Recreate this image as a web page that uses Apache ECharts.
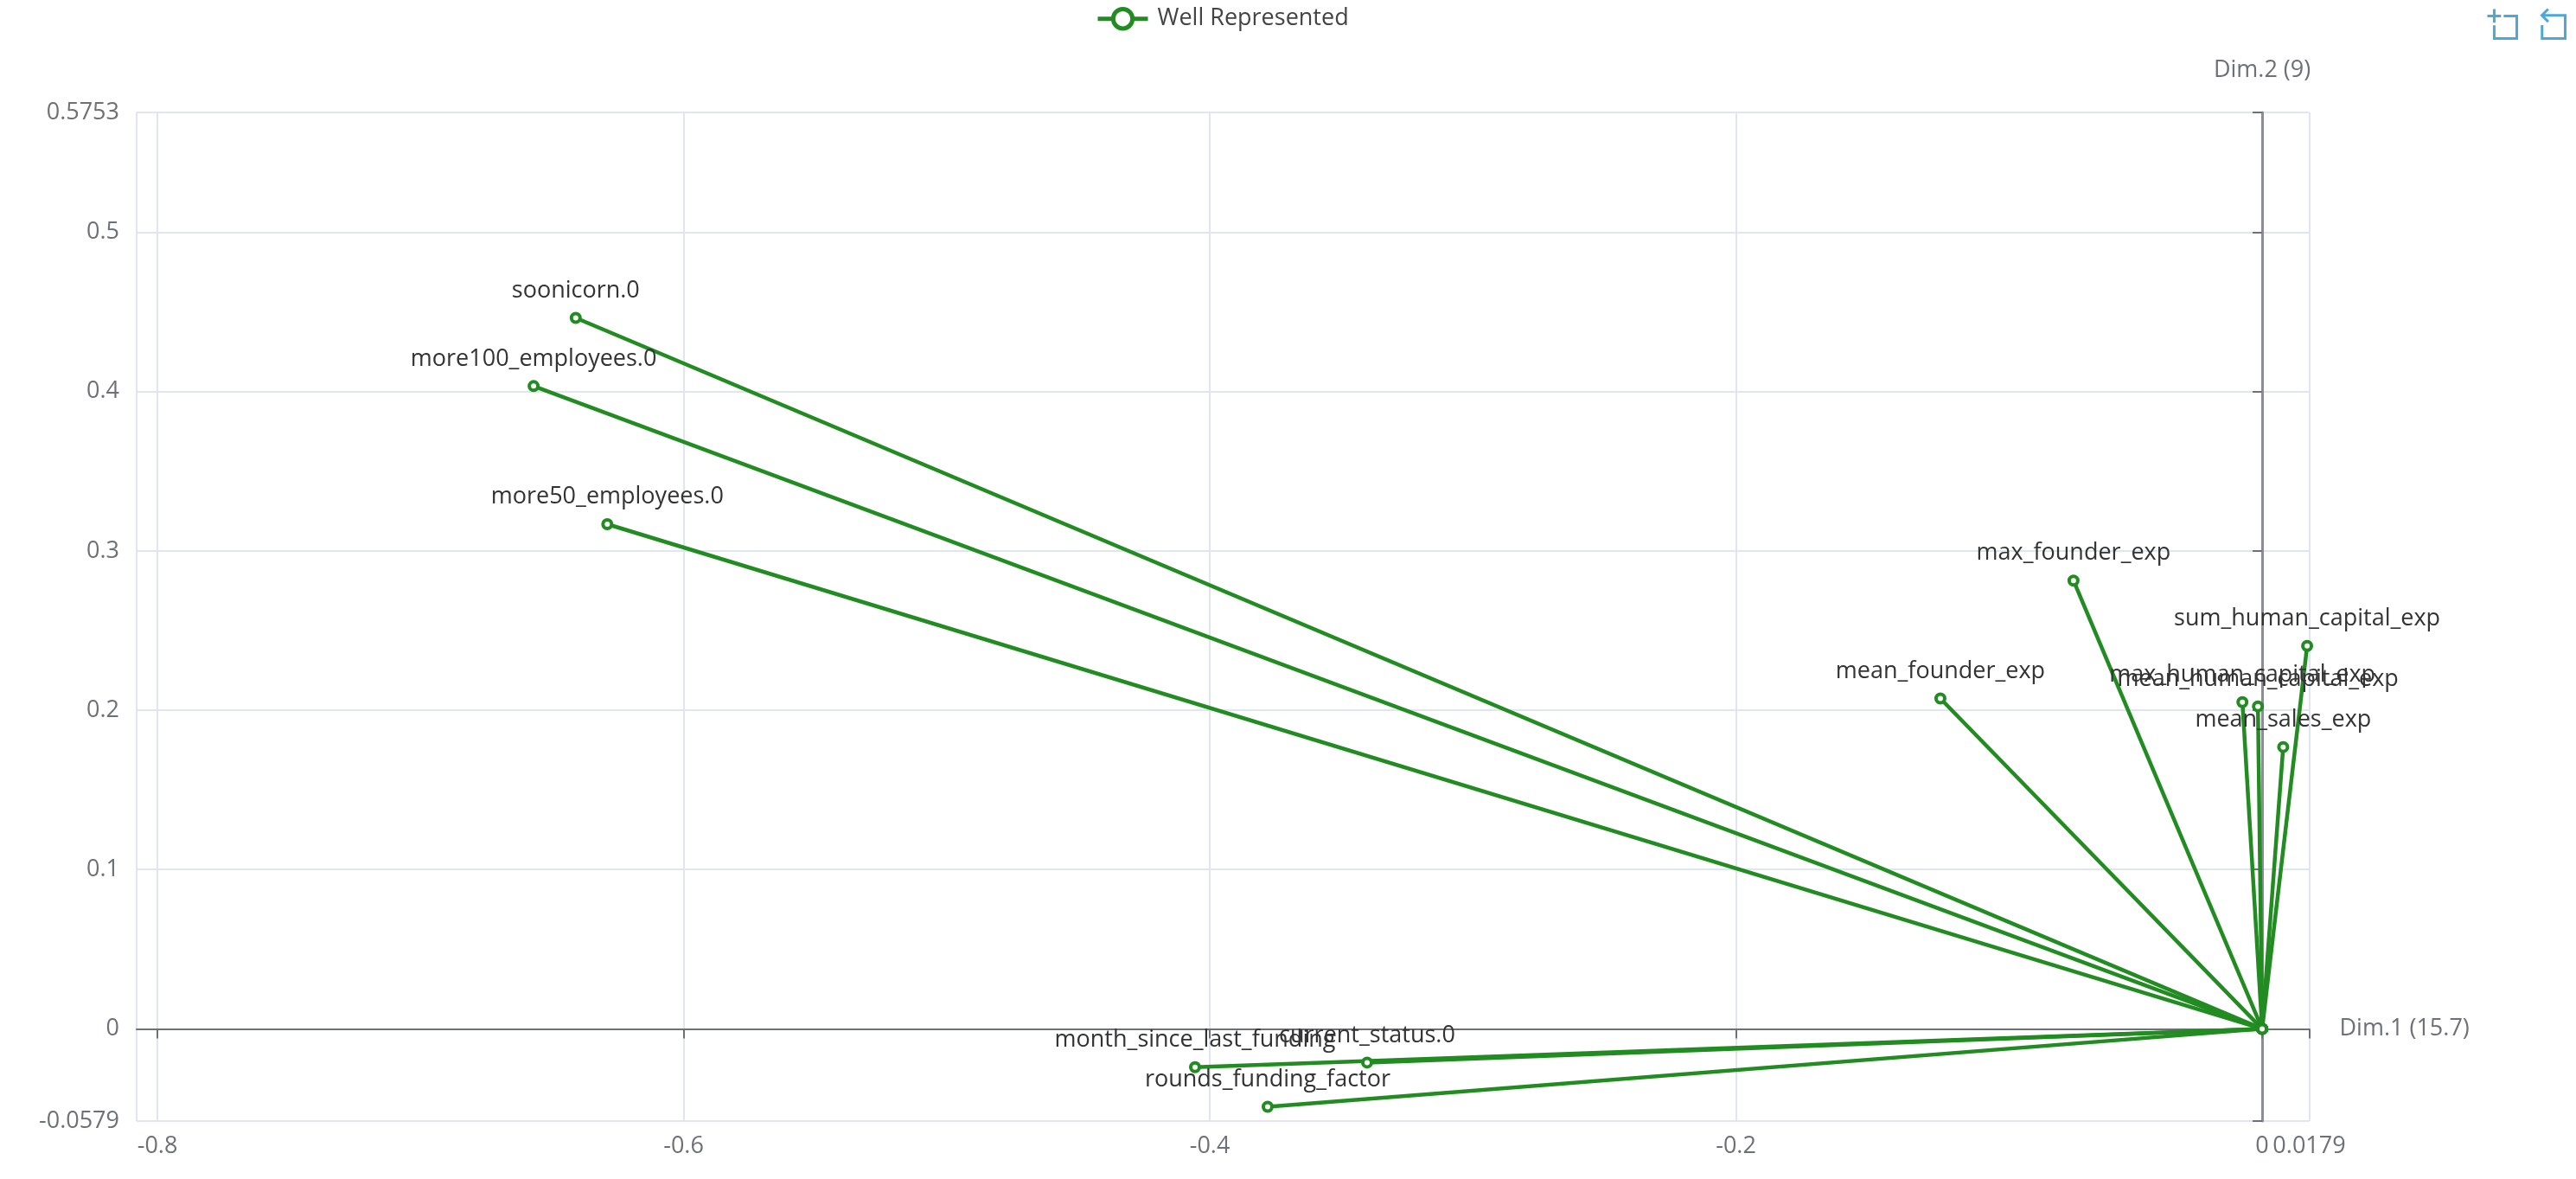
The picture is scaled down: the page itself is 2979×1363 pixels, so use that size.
<!DOCTYPE html>
<html><head><meta charset="utf-8">
<style>html,body{margin:0;padding:0;background:#fff}#c{width:2979px;height:1363px}</style>
<script src="https://cdn.jsdelivr.net/npm/echarts@6/dist/echarts.min.js"></script>
</head><body><div id="c"></div>
<script>
const legendName = 'Well Represented';
const xAxisName = 'Dim.1 (15.7)';
const yAxisName = 'Dim.2 (9)';
const variables = ['soonicorn.0','more100_employees.0','more50_employees.0','max_founder_exp','mean_founder_exp','sum_human_capital_exp','max_human_capital_exp','mean_human_capital_exp','mean_sales_exp','month_since_last_funding','current_status.0','rounds_funding_factor'];
const dim1 = [-0.641,-0.657,-0.629,-0.0717,-0.1223,0.0171,-0.0075,-0.0016,0.0080,-0.4056,-0.3402,-0.378];
const dim2 = [0.4463,0.4035,0.3168,0.2814,0.2074,0.2404,0.2051,0.2024,0.1769,-0.0241,-0.0212,-0.0489];
const xMin = -0.8079, xMax = 0.0179, yMin = -0.0579, yMax = 0.5753;
const xTicks = [-0.8,-0.6,-0.4,-0.2,0,0.0179];

const green = '#228B22', grey = '#6E7079', split = '#E0E6F1', FONT = '"Open Sans"';
const series = variables.map((v,i)=>({
  name: legendName, type:'line', xAxisIndex:0, yAxisIndex:0,
  symbol:'circle', symbolSize:10, showSymbol:true, animation:false,
  lineStyle:{color:green,width:4.5}, itemStyle:{color:'#fff',borderColor:green,borderWidth:4},
  label:{show:false},
  data:[[0,0],{name:v,value:[dim1[i],dim2[i]],label:{show:true,position:'top',distance:11,color:'#333',fontSize:27,fontFamily:FONT,formatter:'{b}'}}]
}));
const chart = echarts.init(document.getElementById('c'),null,{renderer:'canvas'});
const common = {type:'value',scale:false};
chart.setOption({
  animation:false, backgroundColor:'#fff',
  legend:{show:true,top:3,left:1262,itemWidth:58,itemHeight:28,itemGap:12,
    data:[legendName],textStyle:{fontSize:27,fontFamily:FONT,color:'#444',padding:[0,0,0,6]},
    lineStyle:{width:5},itemStyle:{color:'#fff',borderColor:green,borderWidth:5}},
  toolbox:{show:true,right:-5,top:-7,itemSize:34,itemGap:24,
    iconStyle:{borderColor:'#4DA8D6',borderWidth:3,color:'none'},
    feature:{dataZoom:{title:{zoom:'',back:''}}}},
  grid:{left:158,right:308.5,top:130,bottom:67,containLabel:false},
  xAxis:[
    {...common,min:xMin,max:xMax,position:'bottom',name:xAxisName,nameLocation:'end',nameGap:35,
      nameTextStyle:{color:grey,fontSize:27,fontFamily:FONT},
      axisLine:{show:true,onZero:true,lineStyle:{color:grey,width:2}},
      axisTick:{show:true,length:11,customValues:xTicks,lineStyle:{color:grey,width:2}},
      axisLabel:{show:false},splitLine:{show:false}},
    {...common,min:xMin,max:xMax,position:'bottom',
      axisLine:{show:false,onZero:false},axisTick:{show:false},
      axisLabel:{show:true,margin:16,color:grey,fontSize:27,fontFamily:FONT,showMinLabel:false,showMaxLabel:true,hideOverlap:false},
      splitLine:{show:true,lineStyle:{color:split,width:2}}}
  ],
  yAxis:[
    {...common,min:yMin,max:yMax,position:'left',name:yAxisName,nameLocation:'end',nameGap:35,
      nameTextStyle:{color:grey,fontSize:27,fontFamily:FONT},
      axisLine:{show:true,onZero:true,lineStyle:{color:'#8A8D99',width:3}},
      axisTick:{show:true,length:11,lineStyle:{color:grey,width:2}},
      axisLabel:{show:false},splitLine:{show:false}},
    {...common,min:yMin,max:yMax,position:'left',
      axisLine:{show:false,onZero:false},axisTick:{show:false},
      axisLabel:{show:true,margin:20,color:grey,fontSize:27,fontFamily:FONT,showMinLabel:true,showMaxLabel:true,hideOverlap:false},
      splitLine:{show:true,lineStyle:{color:split,width:2}}}
  ],
  series
});
</script></body></html>
